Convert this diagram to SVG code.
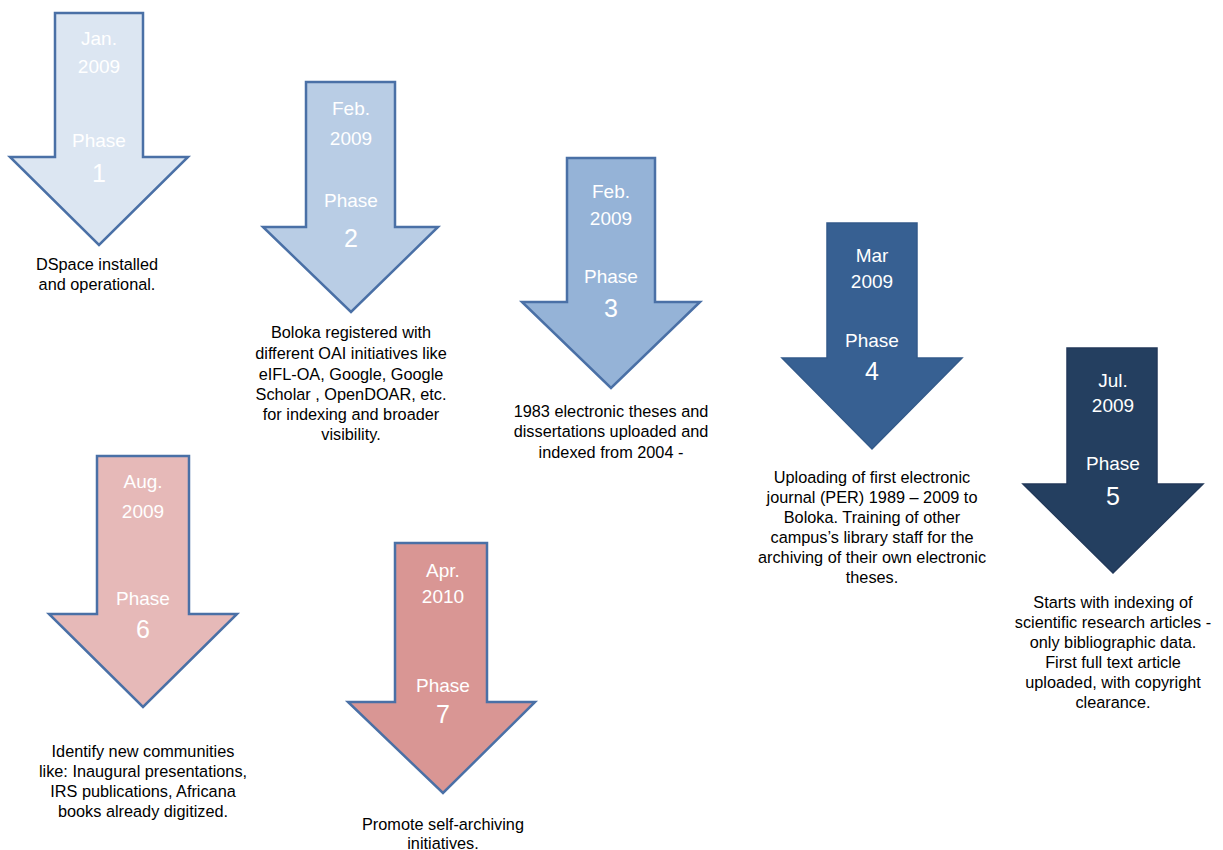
<svg xmlns="http://www.w3.org/2000/svg" width="1223" height="850" viewBox="0 0 1223 850">
<style>
.arr{stroke:#4a70a6;stroke-width:2.5;stroke-linejoin:miter}
.lbl{font-family:"Liberation Sans",Arial,sans-serif;font-size:19px;fill:#ffffff;text-anchor:middle}
.num{font-family:"Liberation Sans",Arial,sans-serif;font-size:25px;fill:#ffffff;text-anchor:middle}
.desc{font-family:"Liberation Sans",Arial,sans-serif;font-size:16.3px;fill:#000000;text-anchor:middle}
</style>
<rect width="1223" height="850" fill="#ffffff"/>
<g id="connectors"></g>
<g id="phase1">
<polygon class="arr" fill="#dce6f2" points="55,13 143,13 143,157 188,157 99,245 10,157 55,157"/>
<text class="lbl" x="99" y="45">Jan.</text>
<text class="lbl" x="99" y="73">2009</text>
<text class="lbl" x="99" y="147">Phase</text>
<text class="num" x="99" y="182">1</text>
<text class="desc" x="97" y="270">DSpace installed</text>
<text class="desc" x="97" y="290">and operational.</text>
</g>
<g id="phase2">
<polygon class="arr" fill="#b9cde5" points="306,82 395,82 395,227 438,227 351,312 263,227 306,227"/>
<text class="lbl" x="351" y="115">Feb.</text>
<text class="lbl" x="351" y="145">2009</text>
<text class="lbl" x="351" y="207">Phase</text>
<text class="num" x="351" y="247">2</text>
<text class="desc" x="351" y="338">Boloka registered with</text>
<text class="desc" x="351" y="359">different OAI initiatives like</text>
<text class="desc" x="351" y="380">eIFL-OA, Google, Google</text>
<text class="desc" x="351" y="400">Scholar , OpenDOAR, etc.</text>
<text class="desc" x="351" y="420">for indexing and broader</text>
<text class="desc" x="351" y="440">visibility.</text>
</g>
<g id="phase3">
<polygon class="arr" fill="#95b3d7" points="567,158 655,158 655,302 700,302 611,388 522,302 567,302"/>
<text class="lbl" x="611" y="198">Feb.</text>
<text class="lbl" x="611" y="225">2009</text>
<text class="lbl" x="611" y="283">Phase</text>
<text class="num" x="611" y="317">3</text>
<text class="desc" x="611" y="417">1983 electronic theses and</text>
<text class="desc" x="611" y="437">dissertations uploaded and</text>
<text class="desc" x="611" y="458">indexed from 2004 -</text>
</g>
<g id="phase4">
<polygon fill="#376092" stroke="#335a8a" stroke-width="1.5" points="827,223 917,223 917,358 962,358 872,449 782,358 827,358"/>
<text class="lbl" x="872" y="262">Mar</text>
<text class="lbl" x="872" y="288">2009</text>
<text class="lbl" x="872" y="347">Phase</text>
<text class="num" x="872" y="380">4</text>
<text class="desc" x="872" y="483">Uploading of first electronic</text>
<text class="desc" x="872" y="503">journal (PER) 1989 – 2009 to</text>
<text class="desc" x="872" y="523">Boloka.  Training of other</text>
<text class="desc" x="872" y="543">campus’s library staff for the</text>
<text class="desc" x="872" y="563">archiving of their own electronic</text>
<text class="desc" x="872" y="583">theses.</text>
</g>
<g id="phase5">
<polygon fill="#243f60" stroke="#22395a" stroke-width="1.5" points="1067,348 1157,348 1157,484 1203,484 1113,573 1023,484 1067,484"/>
<text class="lbl" x="1113" y="387">Jul.</text>
<text class="lbl" x="1113" y="412">2009</text>
<text class="lbl" x="1113" y="470">Phase</text>
<text class="num" x="1113" y="505">5</text>
<text class="desc" x="1113" y="608">Starts with indexing of</text>
<text class="desc" x="1113" y="628">scientific research articles -</text>
<text class="desc" x="1113" y="648">only bibliographic data.</text>
<text class="desc" x="1113" y="668">First full text article</text>
<text class="desc" x="1113" y="688">uploaded, with copyright</text>
<text class="desc" x="1113" y="708">clearance.</text>
</g>
<g id="phase6">
<polygon class="arr" fill="#e6b9b8" points="97,456 189,456 189,614 237,614 143,707 49,614 97,614"/>
<text class="lbl" x="143" y="488">Aug.</text>
<text class="lbl" x="143" y="518">2009</text>
<text class="lbl" x="143" y="605">Phase</text>
<text class="num" x="143" y="638">6</text>
<text class="desc" x="143" y="757">Identify new communities</text>
<text class="desc" x="143" y="777">like: Inaugural presentations,</text>
<text class="desc" x="143" y="797">IRS publications, Africana</text>
<text class="desc" x="143" y="817">books already digitized.</text>
</g>
<g id="phase7">
<polygon class="arr" fill="#d99694" points="395,543 487,543 487,702 535,702 443,793 348,702 395,702"/>
<text class="lbl" x="443" y="577">Apr.</text>
<text class="lbl" x="443" y="603">2010</text>
<text class="lbl" x="443" y="692">Phase</text>
<text class="num" x="443" y="723">7</text>
<text class="desc" x="443" y="830">Promote self-archiving</text>
<text class="desc" x="443" y="849">initiatives.</text>
</g>
</svg>
